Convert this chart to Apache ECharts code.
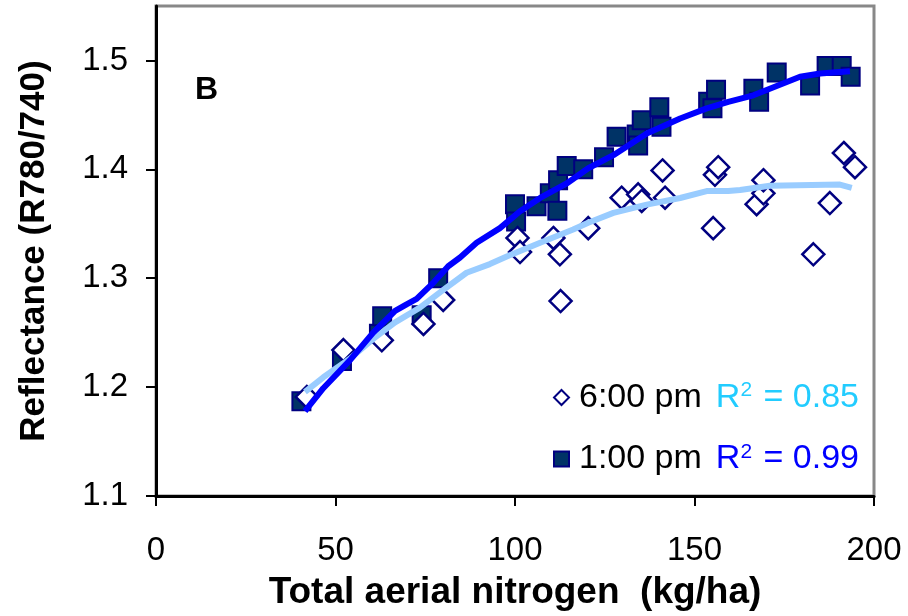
<!DOCTYPE html>
<html>
<head>
<meta charset="utf-8">
<script src="https://cdn.jsdelivr.net/npm/echarts@6/dist/echarts.min.js"></script>
<style>html,body{margin:0;padding:0;background:#fff}#c{width:908px;height:616px}</style>
</head>
<body>
<div id="c"></div>
<script>
// ---- data ----
var xTicks = [0, 50, 100, 150, 200];
var yTicks = [1.1, 1.2, 1.3, 1.4, 1.5];
var seriesNames = ['6:00 pm', '1:00 pm'];
var r2Labels = ['0.85', '0.99'];
var pm1 = [[40.5,1.187],[51.8,1.224],[62.1,1.249],[63,1.265],[74,1.266],[78.6,1.300],[100,1.368],[100.3,1.352],[106,1.366],[109.7,1.378],[112,1.390],[111.8,1.362],[114.4,1.403],[119,1.400],[124.8,1.411],[128.3,1.430],[133.9,1.432],[134.3,1.422],[135.3,1.445],[140.2,1.457],[140.8,1.439],[153.8,1.462],[155,1.456],[156,1.473],[166.4,1.474],[168,1.462],[172.9,1.489],[182.2,1.477],[186.8,1.495],[191,1.495],[193.5,1.485]];
var pm6 = [[42,1.191],[52.2,1.234],[62.9,1.243],[74.5,1.258],[80,1.280],[100.7,1.337],[101.4,1.324],[110.7,1.337],[112.5,1.322],[112.7,1.279],[120.4,1.346],[129.7,1.374],[134.3,1.377],[135.3,1.371],[141.1,1.399],[141.8,1.374],[155.2,1.346],[155.7,1.395],[156.6,1.402],[167.3,1.368],[169.2,1.378],[169.2,1.390],[183.1,1.322],[187.7,1.369],[191.6,1.415],[194.7,1.402]];
var fit1 = [[41.5,1.178],[46.6,1.199],[54,1.2245],[60.5,1.25],[66.6,1.27],[69.8,1.276],[72.6,1.281],[77.3,1.296],[81.4,1.311],[84.7,1.319],[89.3,1.3325],[95.8,1.346],[101.4,1.3615],[107,1.3737],[114.4,1.387],[120.4,1.401],[127.4,1.413],[136.7,1.433],[146,1.4467],[153.4,1.456],[159.4,1.462],[166.4,1.468],[179.4,1.485],[185,1.488],[193.3,1.490]];
var fit6 = [[41.5,1.1956],[46.6,1.209],[54,1.226],[60.5,1.2443],[66.6,1.2595],[73.5,1.273],[79.1,1.287],[86.5,1.305],[93,1.313],[97.7,1.32],[107,1.3326],[116.2,1.3447],[120.4,1.351],[127.4,1.36],[136.7,1.3676],[146,1.3737],[153.4,1.38],[159.4,1.38],[162.7,1.381],[171,1.385],[190.5,1.386],[193.8,1.383]];
var panelLabel = 'B';

var FF = "'Liberation Sans', Arial, sans-serif";
var chart = echarts.init(document.getElementById('c'));
chart.setOption({
  animation: false,
  backgroundColor: '#fff',
  grid: { left: 156, right: 34, top: 6, bottom: 118, show: true, borderColor: '#888', borderWidth: 3, backgroundColor: 'transparent' },
  xAxis: {
    type: 'value', min: 0, max: 200, interval: 50,
    name: 'Total aerial nitrogen  (kg/ha)', nameLocation: 'middle', nameGap: 78,
    nameTextStyle: { fontFamily: FF, fontSize: 37, fontWeight: 'bold', color: '#000' },
    axisLine: { lineStyle: { color: '#000', width: 3 } },
    axisTick: { inside: false, length: 10, lineStyle: { color: '#000', width: 2 }, customValues: xTicks },
    axisLabel: { fontFamily: FF, fontSize: 33, color: '#000', margin: 38, customValues: xTicks },
    splitLine: { show: false }
  },
  yAxis: {
    type: 'value', min: 1.1, max: 1.55,
    name: 'Reflectance (R780/740)', nameLocation: 'middle', nameGap: 104, nameRotate: 90,
    nameTextStyle: { fontFamily: FF, fontSize: 35, fontWeight: 'bold', color: '#000' },
    axisLine: { lineStyle: { color: '#000', width: 3 } },
    axisTick: { inside: false, length: 10, lineStyle: { color: '#000', width: 2 }, customValues: yTicks },
    axisLabel: { fontFamily: FF, fontSize: 33, color: '#000', margin: 28, customValues: yTicks,
      formatter: function (v) { return v.toFixed(1); } },
    splitLine: { show: false }
  },
  legend: {
    data: seriesNames, orient: 'vertical', left: 548, top: 375, itemGap: 27,
    itemWidth: 15, itemHeight: 15,
    formatter: function (name) {
      var i = seriesNames.indexOf(name);
      var tag = i === 0 ? 'c' : 'b';
      return '{n|' + name + '}{' + tag + 'r|R}{' + tag + 's|2}{' + tag + '| = ' + r2Labels[i] + '}';
    },
    textStyle: {
      fontFamily: FF, fontSize: 34, color: '#000',
      rich: {
        n: { fontFamily: FF, fontSize: 34, color: '#000', padding: [0, 0, 0, 5] },
        cr: { fontFamily: FF, fontSize: 34, color: '#22CCFF', padding: [0, 0, 0, 14] },
        c: { fontFamily: FF, fontSize: 34, color: '#22CCFF' },
        cs: { fontFamily: FF, fontSize: 21, color: '#22CCFF', verticalAlign: 'top', padding: [0, 2, 14, 0] },
        br: { fontFamily: FF, fontSize: 34, color: '#0000FF', padding: [0, 0, 0, 14] },
        b: { fontFamily: FF, fontSize: 34, color: '#0000FF' },
        bs: { fontFamily: FF, fontSize: 21, color: '#0000FF', verticalAlign: 'top', padding: [0, 2, 14, 0] }
      }
    }
  },
  graphic: [{
    type: 'text', left: 195, top: 74,
    style: { text: panelLabel, fontFamily: FF, fontSize: 32, fontWeight: 'bold', fill: '#000' }
  }],
  series: [
    { name: '1:00 pm', type: 'scatter', data: pm1, symbol: 'rect', symbolSize: 18, z: 2,
      itemStyle: { color: '#003366', borderColor: '#000080', borderWidth: 2, opacity: 1 } },
    { name: '6:00 pm', type: 'scatter', data: pm6, symbol: 'diamond', symbolSize: 22, z: 3,
      itemStyle: { color: '#ffffff', borderColor: '#000080', borderWidth: 2.5, opacity: 1 } },
    { name: 'fit 6:00 pm', type: 'line', data: fit6, showSymbol: false, symbol: 'none', z: 4,
      lineStyle: { color: '#99CCFF', width: 6 }, itemStyle: { color: '#99CCFF' } },
    { name: 'fit 1:00 pm', type: 'line', data: fit1, showSymbol: false, symbol: 'none', z: 5,
      lineStyle: { color: '#0000FF', width: 6 }, itemStyle: { color: '#0000FF' } }
  ]
});
</script>
</body>
</html>
